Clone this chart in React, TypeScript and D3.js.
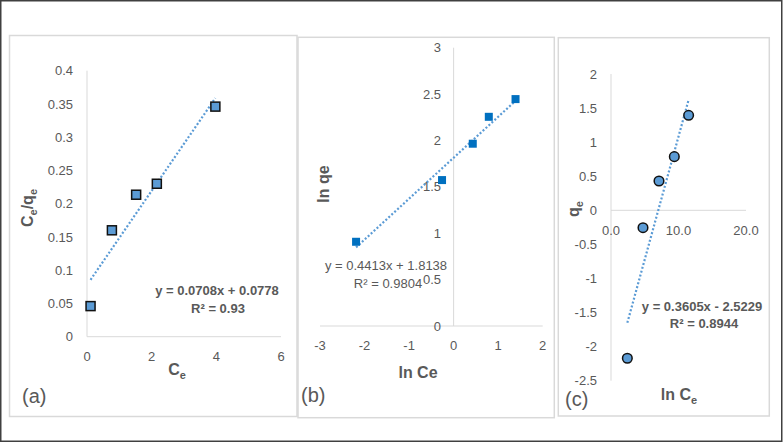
import React from "react";
import * as d3 from "d3";

// ---------- data ----------
// Panel (a): Langmuir  Ce vs Ce/qe
const aCe = [0.11, 0.77, 1.52, 2.16, 3.97];
const aCeQe = [0.046, 0.16, 0.2135, 0.23, 0.346];
const aFit = [0.0708, 0.0778]; // slope, intercept
const aEq = ["y = 0.0708x + 0.0778", "R² = 0.93"];
const aXTicks = [0, 2, 4, 6];
const aYTicks = [0, 0.05, 0.1, 0.15, 0.2, 0.25, 0.3, 0.35, 0.4];

// Panel (b): Freundlich  ln Ce vs ln qe
const bLnCe = [-2.19, -0.26, 0.43, 0.79, 1.39];
const bLnQe = [0.908, 1.573, 1.965, 2.255, 2.446];
const bFit = [0.4413, 1.8138];
const bEq = ["y = 0.4413x + 1.8138", "R² = 0.9804"];
const bXTicks = [-3, -2, -1, 0, 1, 2];
const bYTicks = [0, 0.5, 1, 1.5, 2, 2.5, 3];

// Panel (c): Temkin  ln Ce vs qe
const cLnCe = [2.42, 4.74, 7.11, 9.38, 11.5];
const cQe = [-2.17, -0.255, 0.43, 0.787, 1.394];
const cFit = [0.3605, -2.5229];
const cEq = ["y = 0.3605x - 2.5229", "R² = 0.8944"];
const cXTicks = [0, 10, 20];
const cYTicks = [-2.5, -2, -1.5, -1, -0.5, 0, 0.5, 1, 1.5, 2];

const FONT = "'Liberation Sans', Arial, sans-serif";
const GRAY = "#595959";
const AXIS = "#D9D9D9";
const TREND = "#5B9BD5";

function Trend({ xs, fit, x, y }: any) {
  const x0 = d3.min(xs) as number;
  const x1 = d3.max(xs) as number;
  const line = d3
    .line<number>()
    .x((d) => x(d))
    .y((d) => y(fit[0] * d + fit[1]));
  return (
    <path
      d={line([x0, x1]) || ""}
      fill="none"
      stroke={TREND}
      strokeWidth={2.2}
      strokeDasharray="2 2"
    />
  );
}

export default function App() {
  // ---- panel a scales ----
  const ax = d3.scaleLinear().domain([0, 6]).range([87, 281]);
  const ay = d3.scaleLinear().domain([0, 0.4]).range([336.7, 70.7]);
  // ---- panel b scales ----
  const bx = d3.scaleLinear().domain([-3, 2]).range([320, 542.7]);
  const by = d3.scaleLinear().domain([0, 3]).range([326, 47.7]);
  // ---- panel c scales ----
  const cx = d3.scaleLinear().domain([0, 20]).range([611, 746]);
  const cy = d3.scaleLinear().domain([-2.5, 2]).range([380.7, 74]);

  const tick = { fontFamily: FONT, fontSize: 13, fill: GRAY } as const;
  const bold = { fontFamily: FONT, fontSize: 13, fill: GRAY, fontWeight: 700 } as const;
  const lab = { fontFamily: FONT, fontSize: 16, fill: GRAY, fontWeight: 700 } as const;
  const panelLab = { fontFamily: FONT, fontSize: 20, fill: GRAY } as const;

  const sqA = 9;
  const sqB = 8;

  return (
    <svg
      width={784}
      height={443}
      style={{ position: "absolute", left: 0, top: 0, background: "#fff" }}
    >
      <rect x={0} y={0} width={784} height={443} fill="#fff" />
      {/* outer border */}
      <rect x={0.75} y={0.75} width={781} height={440.5} fill="none" stroke="#404040" strokeWidth={1.5} />

      {/* panel frames */}
      <rect x={9.5} y={35.5} width={287.5} height={381} fill="none" stroke={AXIS} strokeWidth={1.5} />
      <rect x={298} y={37.3} width={256.3} height={380.4} fill="none" stroke={AXIS} strokeWidth={1.5} />
      <rect x={558.3} y={37.7} width={211} height={378.3} fill="none" stroke={AXIS} strokeWidth={1.5} />

      {/* ================= Panel (a) ================= */}
      <g>
        <line x1={ax(0)} x2={ax(0)} y1={ay(0.4)} y2={ay(0)} stroke={AXIS} strokeWidth={1} />
        <line x1={ax(0)} x2={ax(6)} y1={ay(0)} y2={ay(0)} stroke={AXIS} strokeWidth={1} />
        {aYTicks.map((t) => (
          <text key={t} x={73} y={ay(t)} dy="0.35em" textAnchor="end" {...tick}>
            {String(t)}
          </text>
        ))}
        {aXTicks.map((t) => (
          <text key={t} x={ax(t)} y={356} dy="0.35em" textAnchor="middle" {...tick}>
            {String(t)}
          </text>
        ))}
        <Trend xs={aCe} fit={aFit} x={ax} y={ay} />
        {aCe.map((v, i) => (
          <rect
            key={i}
            x={ax(v) - sqA / 2}
            y={ay(aCeQe[i]) - sqA / 2}
            width={sqA}
            height={sqA}
            fill="#5B9BD5"
            stroke="#111"
            strokeWidth={1.5}
          />
        ))}
        <text x={217} y={295} textAnchor="middle" {...bold}>{aEq[0]}</text>
        <text x={218} y={313} textAnchor="middle" {...bold}>{aEq[1]}</text>
        <text transform="translate(33,208) rotate(-90)" textAnchor="middle" {...lab}>
          C<tspan fontSize={11} dy={4}>e</tspan>
          <tspan dy={-4}>/q</tspan>
          <tspan fontSize={11} dy={4}>e</tspan>
        </text>
        <text x={177} y={375} textAnchor="middle" {...lab}>
          C<tspan fontSize={11} dy={4}>e</tspan>
        </text>
        <text x={22} y={403} {...panelLab}>(a)</text>
      </g>

      {/* ================= Panel (b) ================= */}
      <g>
        <line x1={bx(0)} x2={bx(0)} y1={by(3)} y2={by(0)} stroke={AXIS} strokeWidth={1} />
        <line x1={bx(-3)} x2={bx(2)} y1={by(0)} y2={by(0)} stroke={AXIS} strokeWidth={1} />
        {bYTicks.map((t) => (
          <text key={t} x={441} y={by(t)} dy="0.35em" textAnchor="end" {...tick}>
            {String(t)}
          </text>
        ))}
        {bXTicks.map((t) => (
          <text key={t} x={bx(t)} y={345} dy="0.35em" textAnchor="middle" {...tick}>
            {String(t)}
          </text>
        ))}
        <Trend xs={bLnCe} fit={bFit} x={bx} y={by} />
        {bLnCe.map((v, i) => (
          <rect
            key={i}
            x={bx(v) - sqB / 2}
            y={by(bLnQe[i]) - sqB / 2}
            width={sqB}
            height={sqB}
            fill="#0070C0"
          />
        ))}
        <text x={386} y={270} textAnchor="middle" {...tick}>{bEq[0]}</text>
        <text x={388} y={288} textAnchor="middle" {...tick}>{bEq[1]}</text>
        <text transform="translate(329,184) rotate(-90)" textAnchor="middle" {...lab}>ln qe</text>
        <text x={418} y={378} textAnchor="middle" {...lab}>ln Ce</text>
        <text x={301} y={402} {...panelLab}>(b)</text>
      </g>

      {/* ================= Panel (c) ================= */}
      <g>
        <line x1={cx(0)} x2={cx(0)} y1={cy(2)} y2={cy(-2.5)} stroke={AXIS} strokeWidth={1} />
        <line x1={cx(0)} x2={cx(20)} y1={cy(0)} y2={cy(0)} stroke={AXIS} strokeWidth={1} />
        {cYTicks.map((t) => (
          <text key={t} x={597} y={cy(t)} dy="0.35em" textAnchor="end" {...tick}>
            {String(t)}
          </text>
        ))}
        {cXTicks.map((t) => (
          <text key={t} x={cx(t)} y={230} dy="0.35em" textAnchor="middle" {...tick}>
            {t.toFixed(1)}
          </text>
        ))}
        <Trend xs={cLnCe} fit={cFit} x={cx} y={cy} />
        {cLnCe.map((v, i) => (
          <circle
            key={i}
            cx={cx(v)}
            cy={cy(cQe[i])}
            r={4.8}
            fill="#5B9BD5"
            stroke="#111"
            strokeWidth={1.5}
          />
        ))}
        <text x={702} y={311} textAnchor="middle" {...bold}>{cEq[0]}</text>
        <text x={704} y={328} textAnchor="middle" {...bold}>{cEq[1]}</text>
        <text transform="translate(579,209) rotate(-90)" textAnchor="middle" {...lab}>
          q<tspan fontSize={11} dy={4}>e</tspan>
        </text>
        <text x={679} y={400} textAnchor="middle" {...lab}>
          ln C<tspan fontSize={11} dy={4}>e</tspan>
        </text>
        <text x={565} y={406} {...panelLab}>(c)</text>
      </g>
    </svg>
  );
}
